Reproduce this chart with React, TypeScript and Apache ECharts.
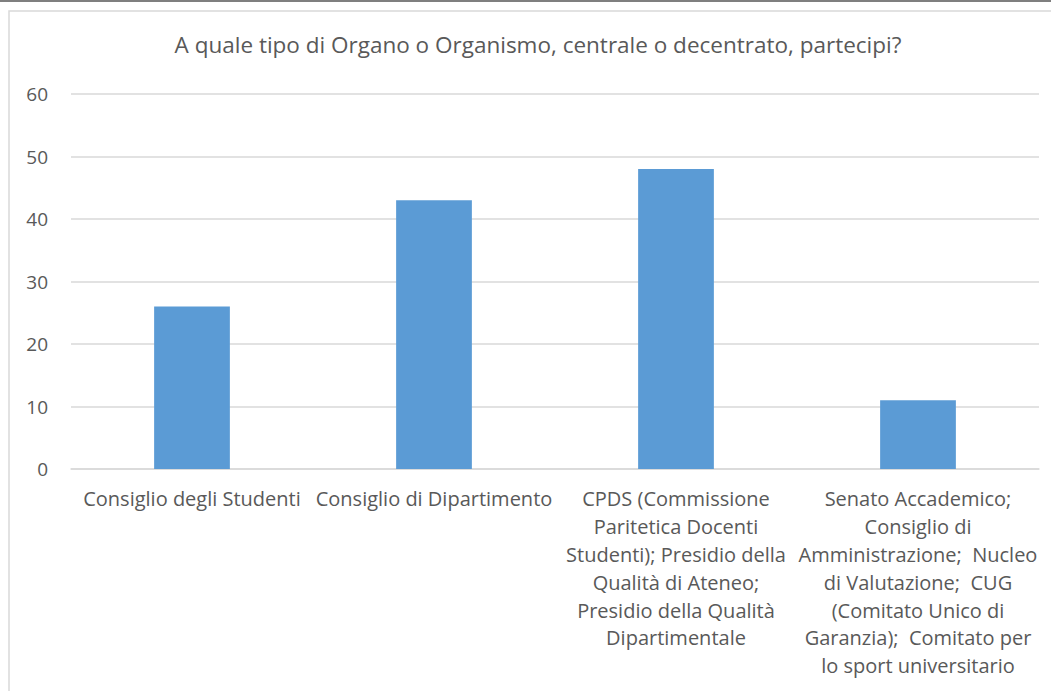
import React, { useEffect, useRef } from "react";
import * as echarts from "echarts";

const titleText = "A quale tipo di Organo o Organismo, centrale o decentrato, partecipi?";
const categories = [
  "Consiglio degli Studenti",
  "Consiglio di Dipartimento",
  "CPDS (Commissione\nParitetica Docenti\nStudenti); Presidio della\nQualità di Ateneo;\nPresidio della Qualità\nDipartimentale",
  "Senato Accademico;\nConsiglio di\nAmministrazione;  Nucleo\ndi Valutazione;  CUG\n(Comitato Unico di\nGaranzia);  Comitato per\nlo sport universitario",
];
const values = [26, 43, 48, 11];
const yMin = 0;
const yMax = 60;
const yStep = 10;

const FONT = "Open Sans";
const TEXT = "#595959";

export default function App() {
  const ref = useRef<HTMLDivElement>(null);
  useEffect(() => {
    document.body.style.margin = "0";
    const chart = echarts.init(ref.current!, null, { renderer: "svg" });
    chart.setOption({
      animation: false,
      backgroundColor: "#ffffff",
      title: {
        text: titleText,
        left: 533,
        top: 28,
        textAlign: "center",
        textStyle: { fontFamily: FONT, fontSize: 22.5, fontWeight: "normal", color: TEXT },
      },
      grid: { left: 71, right: 12, top: 94, bottom: 222, containLabel: false },
      xAxis: {
        type: "category",
        data: categories,
        axisLine: { show: true, lineStyle: { color: "#d9d9d9", width: 1.5 } },
        axisTick: { show: false },
        axisLabel: {
          interval: 0,
          margin: 16,
          fontFamily: FONT,
          fontSize: 20,
          lineHeight: 27.8,
          color: TEXT,
          align: "center",
          verticalAlign: "top",
        },
      },
      yAxis: {
        type: "value",
        min: yMin,
        max: yMax,
        interval: yStep,
        axisLine: { show: false },
        axisTick: { show: false },
        splitLine: { lineStyle: { color: "#d9d9d9", width: 1.5 } },
        axisLabel: { margin: 23, fontFamily: FONT, fontSize: 19, color: TEXT },
      },
      series: [
        {
          type: "bar",
          data: values,
          barWidth: "31.3%",
          itemStyle: { color: "#5b9bd5" },
        },
      ],
      graphic: [
        { type: "rect", shape: { x: 0, y: 0, width: 1051, height: 2 }, style: { fill: "#7f7f7f" }, silent: true },
        {
          type: "rect",
          shape: { x: 9, y: 11, width: 1100, height: 720 },
          style: { fill: "none", stroke: "#d9d9d9", lineWidth: 1.5 },
          silent: true,
          z: -1,
        },
      ],
    });
    return () => chart.dispose();
  }, []);
  return <div ref={ref} style={{ width: 1051, height: 691 }} />;
}
